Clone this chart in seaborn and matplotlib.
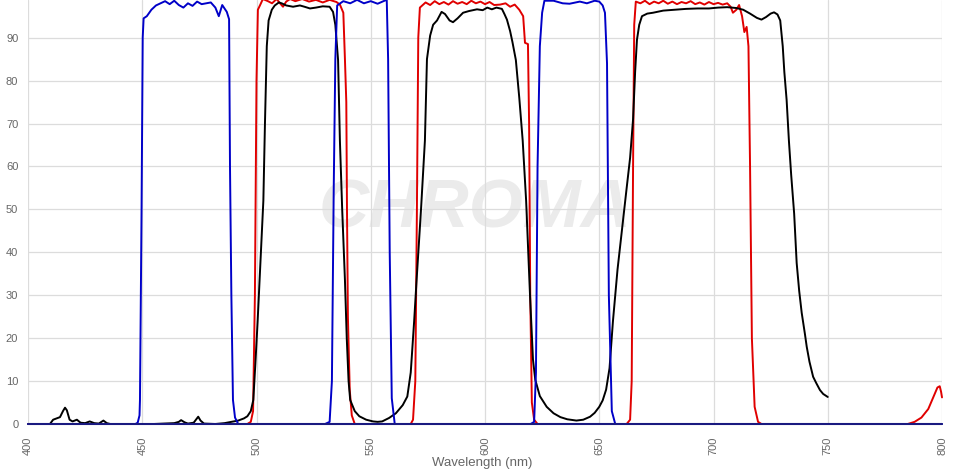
import numpy as np
import pandas as pd
import matplotlib
matplotlib.use("Agg")
import matplotlib.pyplot as plt
import seaborn as sns

# Transmission spectra (%)
blue_wl = [400, 447, 448, 448.8, 449, 449.7, 450.2, 450.6, 452, 454, 456, 458, 460, 462, 464,
           466, 468, 470, 472, 474, 476, 478, 480, 482, 483.5, 485, 487, 488, 488.4, 489,
           489.7, 490.6, 492, 530, 532, 533, 533.8, 534.5, 535.3, 538, 541, 544, 547, 550,
           553, 556, 557, 557.6, 558.3, 559.2, 560.5, 620, 621.5, 622.3, 623, 624, 625, 626,
           630, 634, 637, 641.5, 644.6, 648, 650, 651.5, 652.5, 653.4, 654.2, 655.5, 657, 800]
blue_t = [0, 0, 0.3, 2, 5.6, 50, 90, 94.5, 95, 96.5, 97.5, 98, 98.5, 97.8, 98.6,
          97.6, 97, 98, 97.4, 98.4, 97.8, 98, 98.2, 97, 95, 97.6, 96, 94.3, 60, 30,
          5.6, 1.5, 0, 0, 0.5, 10, 55, 85, 97.5, 98.5, 98, 98.8, 98, 98.5,
          97.9, 98.6, 98.8, 85, 40, 6, 0, 0, 0.5, 12, 60, 88, 95.8, 98.6,
          98.6, 98, 97.9, 98.4, 98, 98.6, 98.4, 97.5, 95.8, 84, 30, 3, 0, 0]

red_wl = [400, 496, 497.5, 498.5, 499.3, 500, 500.6, 501.5, 502.8, 505, 506.8, 508.8, 510.3,
          511.6, 513, 514.7, 517, 520, 523, 526, 529, 532, 535, 536.5, 538, 538.7, 539.3,
          539.6, 540, 540.8, 541.7, 543, 567.5, 568.5, 569.5, 570.2, 570.8, 571.5, 574, 576,
          578, 580, 582, 584, 586, 588, 590, 592, 594, 596, 598, 600, 602, 604, 606.6, 609,
          611, 613, 615, 616.7, 617.5, 618.8, 619.3, 619.8, 620.5, 621.5, 623, 662, 663.5,
          664.2, 664.8, 665.3, 666, 668, 670, 672, 674, 676, 678, 680, 682, 684, 686, 688,
          690, 692, 694, 696, 698, 700, 702, 704, 706, 707.5, 708.5, 710, 711.2, 712.5,
          713.5, 714.5, 715.3, 716, 716.8, 718, 719.5, 721, 785, 788, 791, 794, 796, 798,
          799, 799.6, 800]
red_t = [0, 0, 0.5, 3, 30, 80, 96.5, 97.5, 99, 98.5, 98, 99, 98,
         97.2, 98.4, 99, 98.5, 99, 98.4, 98.8, 98.2, 98.8, 98.3, 97.7, 95.8, 85, 75,
         50, 25, 8, 2, 0, 0, 1, 10, 50, 90, 97, 98.2, 97.6,
         98.5, 97.8, 98.3, 97.7, 98.5, 97.9, 98.3, 97.8, 98.6, 98, 98.4, 97.8, 98.3, 97.6, 97.7, 98,
         97.2, 97.7, 96.5, 95, 88.8, 88.5, 70, 30, 5, 1, 0, 0, 1,
         10, 60, 93, 98.4, 98, 98.6, 97.8, 98.4, 98, 98.6, 97.9, 98.4, 97.8, 98.3, 98,
         98.5, 97.8, 98.2, 97.7, 98.3, 97.8, 98.1, 97.7, 98, 97.2, 95.8, 96.5, 97.6, 95,
         91.3, 92.5, 88, 60, 20, 4, 0.5, 0, 0, 0.5, 1.5, 3.5, 6, 8.5,
         8.8, 7.5, 6.2]

black_wl = [409.6, 411, 412.5, 414, 415.3, 416.2, 417, 418.2, 419.5, 421.4, 423, 425, 427, 429,
            431, 433, 434.5, 436, 455, 460, 464, 466, 467, 468.5, 470, 472.5, 474.5, 475.5,
            477, 482, 486, 489, 492, 494.5, 496, 497.5, 498.6, 499.5, 500.5, 501.5, 502.3,
            503, 503.7, 504.5, 505.3, 506.7, 508, 509.8, 511, 513, 516, 519, 521, 523.4, 526,
            529, 532, 533.5, 534.5, 535.7, 536.5, 537.5, 538.7, 539.5, 540.3, 541, 543, 545,
            548, 551, 553, 555, 558, 561, 564, 566, 567.5, 569, 570, 572, 573.7, 574.6, 576,
            577.3, 579, 581, 582.5, 584.5, 586, 588, 590.4, 593, 596.5, 599, 601, 603, 605,
            607.4, 608.5, 609.6, 611, 612, 613.5, 615, 616.5, 618, 619.7, 621, 622, 624, 627,
            630, 633, 636, 640, 643, 646, 648, 650, 651.5, 653, 654.5, 656, 658, 660.4, 662,
            663.5, 664.8, 665.7, 666.5, 667.5, 668.7, 671, 673.5, 678, 683, 688, 693, 698, 702,
            706, 710, 713, 716, 719, 721, 723, 725, 726.5, 728, 729.2, 730.3, 731, 732, 733,
            734, 735.3, 736.4, 737.5, 738.6, 740, 740.8, 742, 743.6, 745, 746.6, 748, 750]
black_t = [0, 1.0, 1.3, 1.6, 3.0, 3.8, 3.2, 1.0, 0.6, 1.0, 0.3, 0.2, 0.6, 0.2,
           0.1, 0.8, 0.2, 0, 0, 0.1, 0.2, 0.5, 0.9, 0.4, 0.1, 0.3, 1.7, 0.8,
           0.1, 0, 0.2, 0.5, 0.8, 1.3, 1.8, 3, 5.6, 14, 24, 35, 44,
           52, 70, 88, 94, 96.5, 97.5, 98.2, 98, 97.5, 97.2, 97.5, 97.2, 96.8, 97,
           97.3, 97.2, 96, 93, 84.8, 66, 50, 33.6, 20, 10, 5.6, 3, 1.8,
           1, 0.6, 0.5, 0.6, 1.4, 2.5, 4.4, 6.4, 12, 24, 33, 50, 66, 85, 90.5,
           93, 94, 96, 95.5, 94, 93.6, 94.5, 95.8, 96.2, 96.6, 96.4, 97, 96.6, 97,
           96.7, 95.5, 94.2, 91.5, 89, 84.8, 76, 66, 52, 30, 15, 10.3, 6.5, 4,
           2.5, 1.6, 1.1, 0.8, 1, 1.7, 2.6, 4, 5.5, 8, 13, 24, 36, 47.5, 55,
           62, 71, 82, 89.5, 93, 95, 95.6, 95.8, 96.3, 96.5, 96.7, 96.8, 96.8, 97,
           97.1, 96.9, 96.5, 95.6, 94.6, 94.2, 94.8, 95.6, 95.9, 95.4, 94, 88, 82, 75.5, 66,
           58, 49, 37.5, 31, 25.9, 21, 18, 14.5, 11, 9.5, 7.9, 7, 6.3]

x_ticks = [400, 450, 500, 550, 600, 650, 700, 750, 800]
y_ticks = [0, 10, 20, 30, 40, 50, 60, 70, 80, 90]

red_df = pd.DataFrame({"wl": red_wl, "t": red_t})
black_df = pd.DataFrame({"wl": black_wl, "t": black_t})
blue_df = pd.DataFrame({"wl": blue_wl, "t": blue_t})

sns.set_theme(style="whitegrid")
plt.rcParams["font.family"] = ["Liberation Sans", "DejaVu Sans"]

fig = plt.figure(figsize=(9.57, 4.70), dpi=100)
ax = fig.add_axes([28 / 957, 46 / 470, 914 / 957, 424 / 470])

# faint watermark behind the grid and curves
ax.text(0.489, 0.505, "CHROMA", transform=ax.transAxes, ha="center", va="center",
        fontsize=50, fontweight="bold", fontstyle="italic", color="#ebebeb", zorder=0.2)

sns.lineplot(data=red_df, x="wl", y="t", color="#e00000", lw=1.4, estimator=None, ax=ax, zorder=3)
sns.lineplot(data=black_df, x="wl", y="t", color="#000000", lw=1.4, estimator=None, ax=ax, zorder=4)
sns.lineplot(data=blue_df, x="wl", y="t", color="#0000c8", lw=1.4, estimator=None, ax=ax, zorder=5)
for ln in ax.get_lines():
    ln.set_clip_on(False)

# dark navy baseline along zero, drawn over the curves
ax.axhline(0, color="#1a1a80", lw=1.5, zorder=6, clip_on=False)

ax.set_xlim(400, 800)
ax.set_ylim(0, 98.77)
ax.set_xticks(x_ticks)
ax.set_yticks(y_ticks)
ax.set_xticklabels([str(v) for v in x_ticks], rotation=90, va="top")
ax.grid(True, color="#dcdcdc", lw=0.9)
ax.tick_params(axis="both", length=0, labelsize=8, labelcolor="#666666")
ax.tick_params(axis="x", pad=9)
ax.tick_params(axis="y", pad=7)
for s in ax.spines.values():
    s.set_visible(False)

ax.set_ylabel("")
ax.set_xlabel("Wavelength (nm)", fontsize=9.5, color="#666666", va="top")
ax.xaxis.set_label_coords(0.497, -0.078)

fig.savefig("out.png", dpi=100, facecolor="white")
